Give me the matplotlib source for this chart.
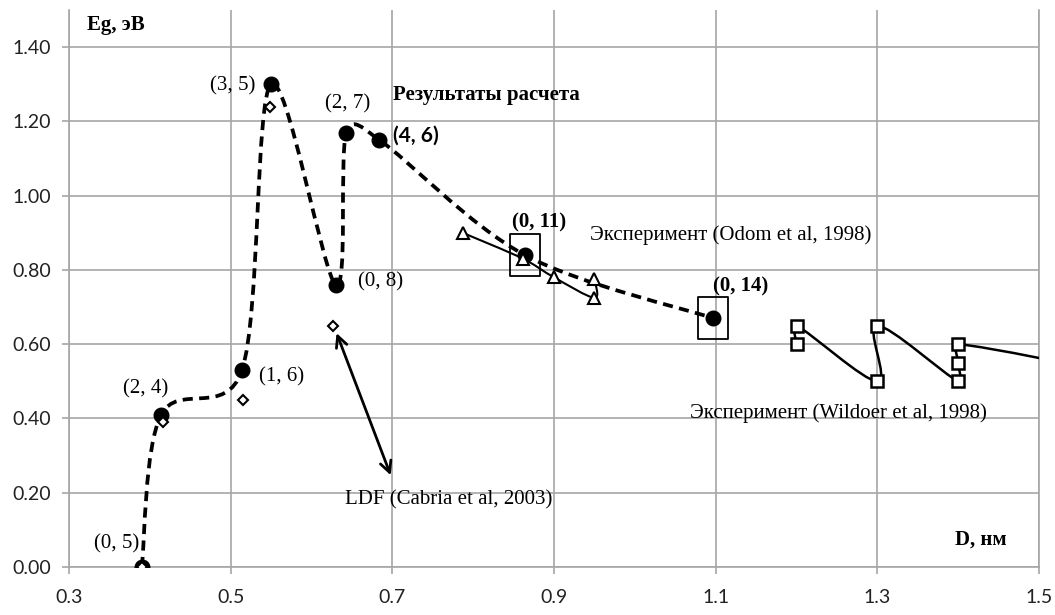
import numpy as np
import matplotlib
matplotlib.use('Agg')
import matplotlib.pyplot as plt
from matplotlib.path import Path
from matplotlib.patches import PathPatch

# ---------------- data ----------------
calc_d = [0.39, 0.414, 0.514, 0.55, 0.63, 0.643, 0.684, 0.864, 1.097]
calc_eg = [0.0, 0.41, 0.53, 1.30, 0.76, 1.17, 1.15, 0.84, 0.67]
calc_labels = ['(0, 5)', '(2, 4)', '(1, 6)', '(3, 5)', '(0, 8)', '(2, 7)', '(4, 6)', '(0, 11)', '(0, 14)']

ldf_d = [0.39, 0.416, 0.515, 0.549, 0.627]
ldf_eg = [0.0, 0.39, 0.45, 1.24, 0.65]

odom_d = [0.787, 0.862, 0.90, 0.95, 0.95]
odom_eg = [0.90, 0.83, 0.78, 0.725, 0.775]

wild_d = [1.2, 1.2, 1.3, 1.3, 1.4, 1.4, 1.4, 1.6]
wild_eg = [0.60, 0.65, 0.50, 0.65, 0.50, 0.55, 0.60, 0.52]

x_ticks = [0.3, 0.5, 0.7, 0.9, 1.1, 1.3, 1.5]
y_ticks = [0.0, 0.2, 0.4, 0.6, 0.8, 1.0, 1.2, 1.4]

boxed = [7, 8]  # indices of calc points framed with a box

# ---------------- styles ----------------
SERIF = 'Liberation Serif'
SANS = 'Lato'
GRID = '#a6a6a6'

label_offsets = [(-25, 23), (-16, 26), (40, -7), (-38, -2), (45, 3), (1, 29), (36, 4), (14, 33), (27, 32)]
label_styles = [
    dict(family=SERIF, weight='normal'),
    dict(family=SERIF, weight='normal'),
    dict(family=SERIF, weight='normal'),
    dict(family=SERIF, weight='normal'),
    dict(family=SERIF, weight='normal'),
    dict(family=SERIF, weight='normal'),
    dict(family=SANS, weight='bold'),
    dict(family=SERIF, weight='bold'),
    dict(family=SERIF, weight='bold'),
]

fig = plt.figure(figsize=(10.55, 6.15), dpi=100)
ax = fig.add_axes([69 / 1055, 48 / 615, 970 / 1055, 557 / 615])
ax.set_xlim(0.3, 1.5)
ax.set_ylim(0, 1.5)

ax.set_xticks(x_ticks)
ax.set_xticklabels([f'{v:.1f}' for v in x_ticks], fontfamily=SANS, fontsize=14, color='#222222')
ax.set_yticks(y_ticks)
ax.set_yticklabels([f'{v:.2f}' for v in y_ticks], fontfamily=SANS, fontsize=14, color='#222222')
ax.tick_params(axis='x', direction='out', length=5, width=1.2, color=GRID, pad=11)
ax.tick_params(axis='y', direction='out', length=5, width=1.2, color=GRID, pad=8)
ax.grid(True, color=GRID, lw=1.2)
ax.set_axisbelow(True)
ax.spines['top'].set_visible(False)
for s in ['left', 'bottom', 'right']:
    ax.spines[s].set_color(GRID)
    ax.spines[s].set_linewidth(1.2)


def smooth_path(xs, ys, t=1 / 6, cap=0.35):
    pts = ax.transData.transform(np.column_stack([xs, ys]))
    n = len(pts)
    verts = [pts[0]]
    codes = [Path.MOVETO]

    def limit(d, seg):
        L = np.hypot(*d)
        m = cap * seg
        return d * (m / L) if L > m and L > 0 else d

    for i in range(n - 1):
        p0 = pts[i - 1] if i > 0 else pts[i]
        p1 = pts[i]
        p2 = pts[i + 1]
        p3 = pts[i + 2] if i + 2 < n else pts[i + 1]
        seg = np.hypot(*(p2 - p1))
        c1 = p1 + limit((p2 - p0) * t, seg)
        c2 = p2 - limit((p3 - p1) * t, seg)
        verts += [c1, c2, p2]
        codes += [Path.CURVE4] * 3
    verts = ax.transData.inverted().transform(np.array(verts))
    return Path(verts, codes)


# calculated results: dashed smooth curve
ax.add_patch(PathPatch(smooth_path(calc_d, calc_eg, cap=0.55), facecolor='none', edgecolor='black',
                       lw=2.7, linestyle=(0, (2.7, 1.7)), capstyle='butt', zorder=3))
ax.plot(calc_d, calc_eg, 'o', color='black', ms=10.5, zorder=4)

# Odom experiment
ax.add_patch(PathPatch(smooth_path(odom_d, odom_eg), facecolor='none', edgecolor='black',
                       lw=1.5, zorder=3))
ax.plot(odom_d, odom_eg, '^', mfc='white', mec='black', ms=8, mew=1.5, zorder=5, ls='none')

# Wildoer experiment
ax.add_patch(PathPatch(smooth_path(wild_d, wild_eg), facecolor='none', edgecolor='black',
                       lw=1.8, zorder=3))
ax.plot(wild_d, wild_eg, 's', mfc='white', mec='black', ms=8, mew=1.8, zorder=5, ls='none')

# LDF
ax.plot(ldf_d, ldf_eg, 'D', mfc='white', mec='black', ms=5.5, mew=1.5, zorder=6, ls='none')

# boxes around selected points
rect = Path([(-0.357, -0.5), (0.357, -0.5), (0.357, 0.5), (-0.357, 0.5), (-0.357, -0.5)],
            [Path.MOVETO, Path.LINETO, Path.LINETO, Path.LINETO, Path.CLOSEPOLY])
ax.plot([calc_d[i] for i in boxed], [calc_eg[i] for i in boxed], ls='none', marker=rect,
        ms=30.2, mfc='none', mec='black', mew=1.3, zorder=5)

# point labels
for xv, yv, lab, off, st in zip(calc_d, calc_eg, calc_labels, label_offsets, label_styles):
    ax.annotate(lab, (xv, yv), xytext=off, textcoords='offset pixels', ha='center', va='center',
                fontsize=15, color='black', **st, zorder=7)

# texts
ax.text(0.322, 1.46, 'Eg, эВ', fontfamily=SERIF, fontweight='bold', fontsize=15, va='center', ha='left')
ax.text(1.396, 0.073, 'D, нм', fontfamily=SERIF, fontweight='bold', fontsize=15, va='center', ha='left')
ax.text(0.701, 1.271, 'Результаты расчета', fontfamily=SERIF, fontweight='bold', fontsize=15,
        va='center', ha='left')
ax.text(0.945, 0.894, 'Эксперимент (Odom et al, 1998)', fontfamily=SERIF, fontsize=15,
        va='center', ha='left')
ax.text(1.068, 0.415, 'Эксперимент (Wildoer et al, 1998)', fontfamily=SERIF, fontsize=15,
        va='center', ha='left')
ax.text(0.641, 0.18, 'LDF (Cabria et al, 2003)', fontfamily=SERIF, fontsize=15,
        va='center', ha='left')

ax.annotate('', xy=(0.631, 0.630), xytext=(0.698, 0.247),
            arrowprops=dict(arrowstyle='<->', color='black', lw=2, mutation_scale=20,
                            shrinkA=0, shrinkB=0), zorder=6)

fig.savefig('out.png', dpi=100)
